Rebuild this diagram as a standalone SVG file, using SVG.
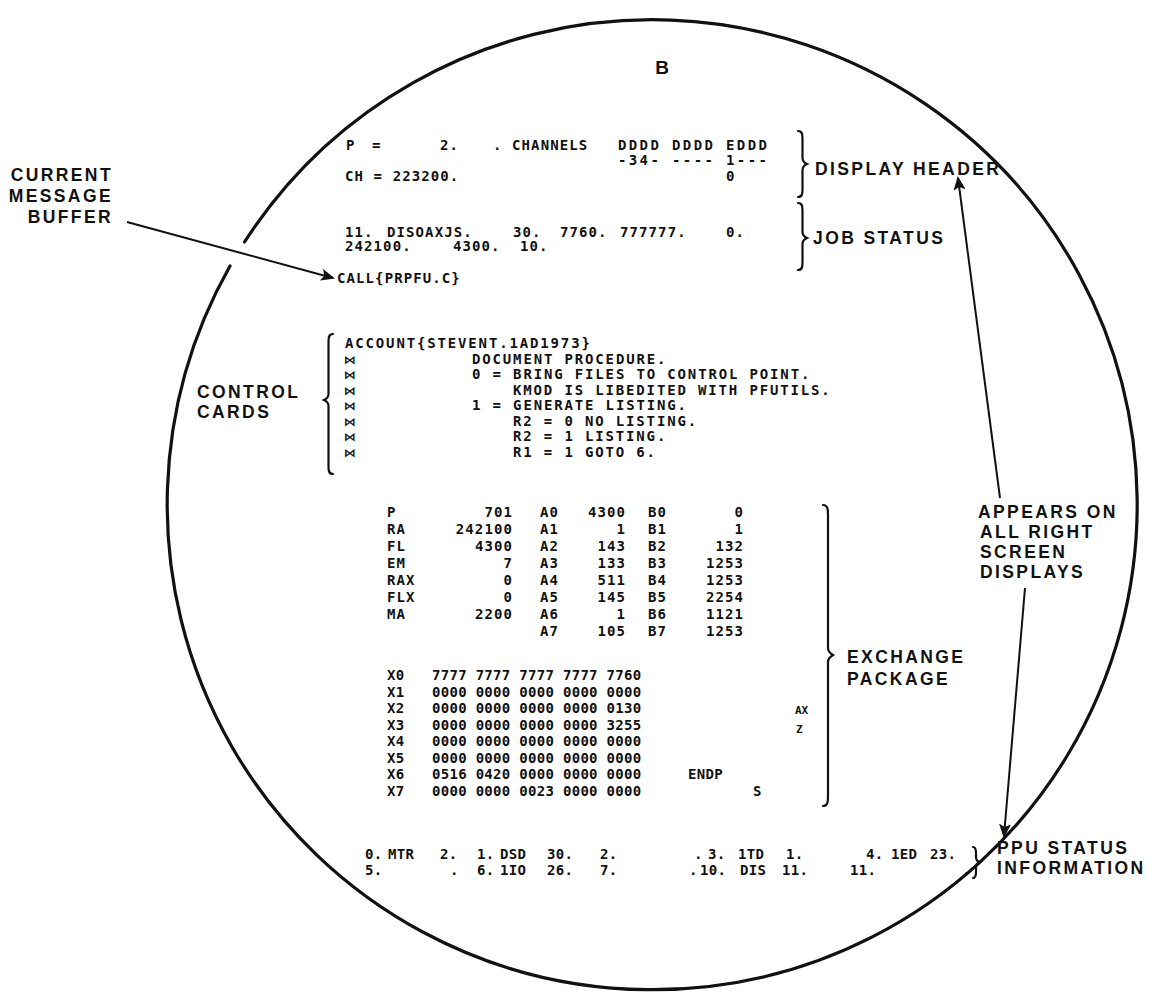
<svg xmlns="http://www.w3.org/2000/svg" width="1157" height="992" viewBox="0 0 1157 992">
<style>
.m{font-family:"DejaVu Sans Mono","Liberation Mono",monospace;font-size:14px;letter-spacing:0.3px;font-weight:bold;fill:#111}
.w{font-family:"DejaVu Sans Mono","Liberation Mono",monospace;font-size:14px;letter-spacing:1.1px;font-weight:bold;fill:#111}
.cc{font-family:"DejaVu Sans Mono","Liberation Mono",monospace;font-size:14px;letter-spacing:1.85px;font-weight:bold;fill:#111}
.s{font-family:"DejaVu Sans Mono","Liberation Mono",monospace;font-size:11px;font-weight:bold;fill:#111}
.k{font-family:"DejaVu Sans",sans-serif;font-size:12px;font-weight:bold;fill:#111}
.L{font-family:"Liberation Sans",Arial,sans-serif;font-weight:bold;font-size:17.5px;letter-spacing:2.4px;fill:#111}
.B{font-family:"Liberation Sans",Arial,sans-serif;font-weight:bold;font-size:19px;fill:#111}
.br{fill:none;stroke:#111;stroke-width:2.2;stroke-linecap:round}
.ln{fill:none;stroke:#111;stroke-width:2;marker-end:url(#ah)}
.c{fill:none;stroke:#111;stroke-width:3.2;stroke-linecap:round}
</style>
<defs>
<marker id="ah" markerUnits="userSpaceOnUse" markerWidth="14" markerHeight="12" refX="12" refY="6" orient="auto">
<path d="M0,0 L14,6 L0,12 L3,6 z" fill="#111"/>
</marker>
</defs>
<rect width="1157" height="992" fill="#fff"/>
<g id="screen">
<path class="c" d="M244.5,242 A485,485 0 1 1 230,266"/>
<text class="B" x="662" y="74" text-anchor="middle">B</text>
</g>
<g id="display-header-text">
<text class="w" x="346" y="150">P</text>
<text class="w" x="372" y="150">=</text>
<text class="w" x="440" y="150">2.</text>
<text class="w" x="493" y="150">. CHANNELS</text>
<text class="w" x="618" y="150" textLength="150" lengthAdjust="spacing">DDDD DDDD EDDD</text>
<text class="w" x="618" y="165" textLength="150" lengthAdjust="spacing">-34- ---- 1---</text>
<text class="w" x="345" y="181">CH = 223200.</text>
<text class="w" x="726" y="181">0</text>
</g>
<g id="job-status-text">
<text class="w" x="345" y="237">11.</text>
<text class="w" x="387" y="237">DISOAXJS.</text>
<text class="w" x="513" y="237">30.</text>
<text class="w" x="560" y="237">7760.</text>
<text class="w" x="620" y="237">777777.</text>
<text class="w" x="726" y="237">0.</text>
<text class="w" x="345" y="251">242100.</text>
<text class="w" x="453" y="251">4300.</text>
<text class="w" x="520" y="251">10.</text>
</g>
<g id="message-buffer-text">
<text class="w" x="337" y="283">CALL{PRPFU.C}</text>
</g>
<g id="control-cards-text">
<text class="cc" x="345" y="348">ACCOUNT{STEVENT.1AD1973}</text>
<text class="k" x="344" y="364">⋈</text>
<text class="k" x="344" y="379">⋈</text>
<text class="k" x="344" y="395">⋈</text>
<text class="k" x="344" y="410">⋈</text>
<text class="k" x="344" y="426">⋈</text>
<text class="k" x="344" y="441">⋈</text>
<text class="k" x="344" y="457">⋈</text>
<text class="cc" x="472" y="364">DOCUMENT PROCEDURE.</text>
<text class="cc" x="472" y="379">0 = BRING FILES TO CONTROL POINT.</text>
<text class="cc" x="513" y="395">KMOD IS LIBEDITED WITH PFUTILS.</text>
<text class="cc" x="472" y="410">1 = GENERATE LISTING.</text>
<text class="cc" x="513" y="426">R2 = 0 NO LISTING.</text>
<text class="cc" x="513" y="441">R2 = 1 LISTING.</text>
<text class="cc" x="513" y="457">R1 = 1 GOTO 6.</text>
</g>
<g id="exchange-package-text">
<text class="w" x="387" y="517">P</text><text class="w" x="513" y="517" text-anchor="end">701</text><text class="w" x="540" y="517">A0</text><text class="w" x="626" y="517" text-anchor="end">4300</text><text class="w" x="648" y="517">B0</text><text class="w" x="744" y="517" text-anchor="end">0</text>
<text class="w" x="387" y="534">RA</text><text class="w" x="513" y="534" text-anchor="end">242100</text><text class="w" x="540" y="534">A1</text><text class="w" x="626" y="534" text-anchor="end">1</text><text class="w" x="648" y="534">B1</text><text class="w" x="744" y="534" text-anchor="end">1</text>
<text class="w" x="387" y="551">FL</text><text class="w" x="513" y="551" text-anchor="end">4300</text><text class="w" x="540" y="551">A2</text><text class="w" x="626" y="551" text-anchor="end">143</text><text class="w" x="648" y="551">B2</text><text class="w" x="744" y="551" text-anchor="end">132</text>
<text class="w" x="387" y="568">EM</text><text class="w" x="513" y="568" text-anchor="end">7</text><text class="w" x="540" y="568">A3</text><text class="w" x="626" y="568" text-anchor="end">133</text><text class="w" x="648" y="568">B3</text><text class="w" x="744" y="568" text-anchor="end">1253</text>
<text class="w" x="387" y="585">RAX</text><text class="w" x="513" y="585" text-anchor="end">0</text><text class="w" x="540" y="585">A4</text><text class="w" x="626" y="585" text-anchor="end">511</text><text class="w" x="648" y="585">B4</text><text class="w" x="744" y="585" text-anchor="end">1253</text>
<text class="w" x="387" y="602">FLX</text><text class="w" x="513" y="602" text-anchor="end">0</text><text class="w" x="540" y="602">A5</text><text class="w" x="626" y="602" text-anchor="end">145</text><text class="w" x="648" y="602">B5</text><text class="w" x="744" y="602" text-anchor="end">2254</text>
<text class="w" x="387" y="619">MA</text><text class="w" x="513" y="619" text-anchor="end">2200</text><text class="w" x="540" y="619">A6</text><text class="w" x="626" y="619" text-anchor="end">1</text><text class="w" x="648" y="619">B6</text><text class="w" x="744" y="619" text-anchor="end">1121</text>
<text class="w" x="540" y="636">A7</text><text class="w" x="626" y="636" text-anchor="end">105</text><text class="w" x="648" y="636">B7</text><text class="w" x="744" y="636" text-anchor="end">1253</text>
<text class="m" x="387" y="680">X0</text><text class="m" x="432" y="680">7777 7777 7777 7777 7760</text>
<text class="m" x="387" y="697">X1</text><text class="m" x="432" y="697">0000 0000 0000 0000 0000</text>
<text class="m" x="387" y="713">X2</text><text class="m" x="432" y="713">0000 0000 0000 0000 0130</text>
<text class="m" x="387" y="730">X3</text><text class="m" x="432" y="730">0000 0000 0000 0000 3255</text>
<text class="m" x="387" y="746">X4</text><text class="m" x="432" y="746">0000 0000 0000 0000 0000</text>
<text class="m" x="387" y="763">X5</text><text class="m" x="432" y="763">0000 0000 0000 0000 0000</text>
<text class="m" x="387" y="779">X6</text><text class="m" x="432" y="779">0516 0420 0000 0000 0000</text><text class="m" x="688" y="779">ENDP</text>
<text class="m" x="387" y="796">X7</text><text class="m" x="432" y="796">0000 0000 0023 0000 0000</text><text class="m" x="753" y="796">S</text>
<text class="s" x="795" y="714">AX</text>
<text class="s" x="796" y="733">Z</text>
</g>
<g id="ppu-status-text">
<text class="m" x="365" y="859">0.</text><text class="m" x="388" y="859">MTR</text><text class="m" x="440" y="859">2.</text><text class="m" x="477" y="859">1.</text><text class="m" x="500" y="859">DSD</text><text class="m" x="547" y="859">30.</text><text class="m" x="600" y="859">2.</text><text class="m" x="694" y="859">.</text><text class="m" x="708" y="859">3.</text><text class="m" x="738" y="859">1TD</text><text class="m" x="786" y="859">1.</text><text class="m" x="866" y="859">4.</text><text class="m" x="891" y="859">1ED</text><text class="m" x="930" y="859">23.</text>
<text class="m" x="365" y="875">5.</text><text class="m" x="450" y="875">.</text><text class="m" x="477" y="875">6.</text><text class="m" x="500" y="875">1IO</text><text class="m" x="547" y="875">26.</text><text class="m" x="600" y="875">7.</text><text class="m" x="689" y="875">.</text><text class="m" x="700" y="875">10.</text><text class="m" x="740" y="875">DIS</text><text class="m" x="782" y="875">11.</text><text class="m" x="850" y="875">11.</text><text class="m" x="962" y="875">.</text>
</g>
<g id="label-current-message-buffer">
<text class="L" x="113" y="181" text-anchor="end">CURRENT</text>
<text class="L" x="113" y="202" text-anchor="end">MESSAGE</text>
<text class="L" x="113" y="223" text-anchor="end">BUFFER</text>
</g>
<g id="label-control-cards">
<text class="L" x="197" y="398">CONTROL</text>
<text class="L" x="197" y="418">CARDS</text>
</g>
<g id="label-display-header">
<text class="L" x="815" y="175">DISPLAY HEADER</text>
</g>
<g id="label-job-status">
<text class="L" x="813" y="244">JOB STATUS</text>
</g>
<g id="label-appears">
<text class="L" x="978" y="518">APPEARS ON</text>
<text class="L" x="980" y="538">ALL RIGHT</text>
<text class="L" x="980" y="558">SCREEN</text>
<text class="L" x="980" y="578">DISPLAYS</text>
</g>
<g id="label-exchange-package">
<text class="L" x="847" y="663">EXCHANGE</text>
<text class="L" x="847" y="685">PACKAGE</text>
</g>
<g id="label-ppu-status">
<text class="L" x="997" y="854">PPU STATUS</text>
<text class="L" x="997" y="874">INFORMATION</text>
</g>
<g id="braces">
<path class="br" d="M798,131 C802.5,131 802.5,135 802.5,139 L802.5,158 C802.5,162 807,164 807,164 C807,164 802.5,166 802.5,170 L802.5,189 C802.5,193 802.5,197 798,197"/>
<path class="br" d="M798,203 C802.5,203 802.5,207 802.5,211 L802.5,232 C802.5,236 807,238 807,238 C807,238 802.5,240 802.5,244 L802.5,262 C802.5,266 802.5,270 798,270"/>
<path class="br" d="M333,334 C328.5,334 328.5,338 328.5,342 L328.5,394 C328.5,398 324,400 324,400 C324,400 328.5,402 328.5,406 L328.5,466 C328.5,470 328.5,474 333,474"/>
<path class="br" d="M823,505 C828,505 828,510 828,515 L828,648 C828,652 833,655 833,655 C833,655 828,658 828,662 L828,796 C828,801 828,806 823,806"/>
<path class="br" d="M973,847 C976,847 976,850 976,853 L976,858 C976,860 979,862 979,862 C979,862 976,864 976,866 L976,872 C976,875 976,878 973,878"/>
</g>
<g id="connectors">
<line class="ln" x1="127" y1="222" x2="333" y2="278"/>
<line class="ln" x1="1000" y1="498" x2="958" y2="178"/>
<line class="ln" x1="1025" y1="588" x2="1004" y2="836"/>
</g>
</svg>
